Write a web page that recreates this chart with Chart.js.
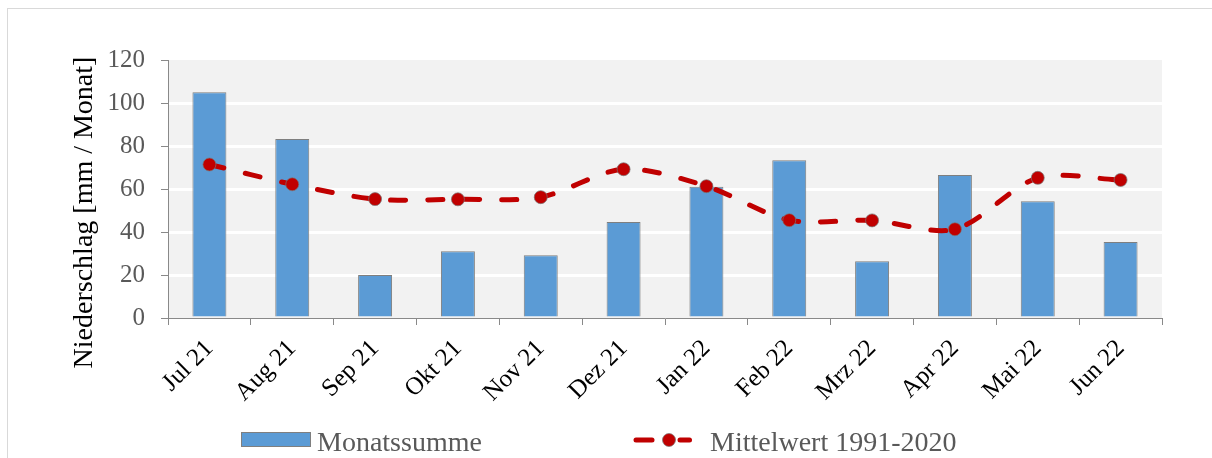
<!DOCTYPE html>
<html><head><meta charset="utf-8">
<script src="https://cdn.jsdelivr.net/npm/chart.js@4"></script>
<style>html,body{margin:0;padding:0;background:#fff;overflow:hidden}</style>
</head><body>
<canvas id="c" width="1212" height="458"></canvas>
<script>
const categories = ['Jul 21','Aug 21','Sep 21','Okt 21','Nov 21','Dez 21','Jan 22','Feb 22','Mrz 22','Apr 22','Mai 22','Jun 22'];
const monatssumme = [105, 83.2, 20, 31, 29.2, 44.7, 61, 73.4, 26.4, 66.5, 54.3, 35.3];
const mittelwert = [71.4, 62.2, 55.3, 55.2, 56.2, 69.2, 61.3, 45.5, 45.4, 41.3, 65.2, 64.2];
const yMin = 0, yMax = 120, yStep = 20;
const seriesNames = ['Monatssumme', 'Mittelwert 1991-2020'];
const axisTitle = 'Niederschlag [mm / Monat]';

const FONT = '"Liberation Serif", "Times New Roman", serif';
const BAR_FILL = '#5b9bd5', BAR_EDGE = '#7f7f7f', LINE_RED = '#c00000', AXIS = '#898989';

const decor = {
  id: 'decor',
  beforeDraw(chart) {
    const {ctx, chartArea: a} = chart;
    ctx.save();
    ctx.strokeStyle = '#d9d9d9'; ctx.lineWidth = 1;
    ctx.strokeRect(7.5, 8.5, 1400, 800);
    ctx.fillStyle = '#f2f2f2';
    ctx.fillRect(a.left, a.top, a.right - a.left, a.bottom - a.top);
    ctx.restore();
  },
  afterDraw(chart) {
    const {ctx, chartArea: a} = chart;
    ctx.save();
    // axis title
    ctx.translate(92, (a.top + a.bottom) / 2 + 23.5);
    ctx.rotate(-Math.PI / 2);
    ctx.font = '28px ' + FONT; ctx.fillStyle = '#000';
    ctx.textAlign = 'center'; ctx.textBaseline = 'alphabetic';
    ctx.fillText(axisTitle, 0, 0);
    ctx.restore();
    // legend
    ctx.save();
    ctx.font = '28px ' + FONT;
    ctx.textBaseline = 'alphabetic'; ctx.textAlign = 'left';
    ctx.fillStyle = BAR_FILL; ctx.fillRect(241.5, 432.5, 69, 14);
    ctx.strokeStyle = BAR_EDGE; ctx.lineWidth = 1; ctx.strokeRect(241.5, 432.5, 69, 14);
    ctx.fillStyle = '#595959';
    ctx.fillText(seriesNames[0], 317, 451);
    ctx.strokeStyle = LINE_RED; ctx.lineWidth = 5; ctx.lineCap = 'round';
    ctx.beginPath(); ctx.moveTo(636, 440); ctx.lineTo(652, 440); ctx.stroke();
    ctx.beginPath(); ctx.moveTo(680, 440); ctx.lineTo(689.5, 440); ctx.stroke();
    ctx.beginPath(); ctx.arc(669, 440, 6.5, 0, Math.PI * 2);
    ctx.fillStyle = LINE_RED; ctx.fill();
    ctx.strokeStyle = 'rgba(120,120,120,0.7)'; ctx.lineWidth = 1; ctx.stroke();
    ctx.fillStyle = '#595959';
    ctx.fillText(seriesNames[1], 710, 451);
    ctx.restore();
  }
};

new Chart(document.getElementById('c'), {
  data: {
    labels: categories,
    datasets: [
      {
        type: 'line', label: seriesNames[1], data: mittelwert, order: 0,
        borderColor: LINE_RED, borderWidth: 5, borderDash: [15, 22], borderCapStyle: 'round',
        tension: 0.3, fill: false,
        pointRadius: 6.5, pointHoverRadius: 6.5, pointBackgroundColor: LINE_RED,
        pointBorderColor: 'rgba(120,120,120,0.7)', pointBorderWidth: 1
      },
      {
        type: 'bar', label: seriesNames[0], data: monatssumme, order: 1,
        backgroundColor: BAR_FILL, borderColor: BAR_EDGE, borderWidth: 1,
        categoryPercentage: 1, barPercentage: 0.41
      }
    ]
  },
  options: {
    responsive: false, animation: false, devicePixelRatio: 1,
    layout: { padding: { left: 0, right: 50, top: 60, bottom: 0 } },
    plugins: { legend: { display: false }, tooltip: { enabled: false }, title: { display: false } },
    scales: {
      x: {
        type: 'category', offset: true,
        afterFit(s) { s.height = 140; },
        grid: { display: true, drawOnChartArea: false, offset: true, tickColor: AXIS, tickLength: 7, tickWidth: 1 },
        border: { display: true, color: AXIS, width: 1 },
        ticks: { autoSkip: false, maxRotation: 45, minRotation: 45, color: '#000', padding: 9,
                 font: { family: FONT, size: 25 } }
      },
      y: {
        min: yMin, max: yMax,
        afterFit(s) { s.width = 168; },
        grid: {
          color: (c) => (c.tick && c.tick.value > yMin && c.tick.value < yMax) ? '#ffffff' : 'rgba(0,0,0,0)',
          lineWidth: 3, tickColor: AXIS, tickWidth: 1, tickLength: 7
        },
        border: { display: true, color: AXIS, width: 1 },
        ticks: { stepSize: yStep, color: '#595959', padding: 16, font: { family: FONT, size: 25 } }
      }
    }
  },
  plugins: [decor]
});
</script>
</body></html>
